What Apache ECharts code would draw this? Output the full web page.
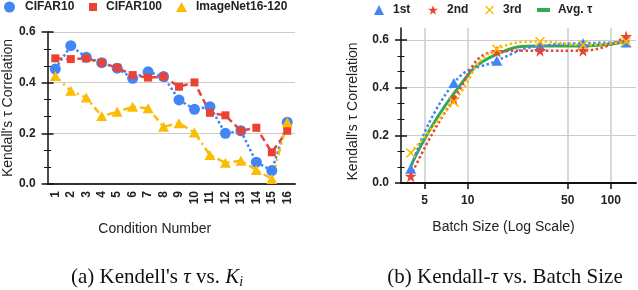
<!DOCTYPE html>
<html>
<head>
<meta charset="utf-8">
<script src="https://cdn.jsdelivr.net/npm/echarts@6/dist/echarts.min.js"></script>
<style>
html,body{margin:0;padding:0;background:#fff;}
#chart{width:638px;height:290px;}
</style>
</head>
<body>
<div id="chart"></div>
<script>
// ---- Data: left panel (Kendall's tau vs. condition number) ----
const conditions = ['1','2','3','4','5','6','7','8','9','10','11','12','13','14','15','16'];
const cifar10  = [0.454, 0.546, 0.500, 0.479, 0.457, 0.417, 0.443, 0.424, 0.332, 0.295, 0.305, 0.200, 0.210, 0.086, 0.053, 0.244];
const cifar100 = [0.496, 0.493, 0.496, 0.479, 0.459, 0.430, 0.420, 0.424, 0.384, 0.401, 0.281, 0.271, 0.210, 0.222, 0.125, 0.210];
const imagenet = [0.426, 0.368, 0.341, 0.268, 0.285, 0.305, 0.299, 0.226, 0.240, 0.203, 0.114, 0.084, 0.092, 0.055, 0.020, 0.244];

// ---- Data: right panel (Kendall's tau vs. batch size) ----
const batchSizes = [4, 8, 16, 32, 64, 128];
const first  = [0.060, 0.419, 0.513, 0.575, 0.586, 0.589];
const second = [0.028, 0.352, 0.551, 0.555, 0.555, 0.614];
const third  = [0.126, 0.340, 0.561, 0.593, 0.579, 0.593];
const avgTau = [0.070, 0.375, 0.540, 0.575, 0.575, 0.593];
const batchTicks = [5, 10, 50, 100];
const tauTicks = [0, 0.2, 0.4, 0.6];

const C_BLUE = '#4285F4', C_RED = '#EA4335', C_YEL = '#FBBC04', C_GRN = '#34A853';
const SANS = 'Liberation Sans, Arial, sans-serif';
const SERIF = 'Liberation Serif, Times New Roman, serif';
const STAR = 'path://M50,0 L61.8,35.4 L100,35.4 L69.1,57.3 L80.9,95.1 L50,72.6 L19.1,95.1 L30.9,57.3 L0,35.4 L38.2,35.4 Z';
const XMARK = 'path://M0,11 L11,0 L50,39 L89,0 L100,11 L61,50 L100,89 L89,100 L50,61 L11,100 L0,89 L39,50 Z';

const lg = Math.log10;
const xyPairs = (xs, ys) => xs.map((x, i) => [lg(x), ys[i]]);
const tickLogs = batchTicks.map(v => lg(v));

const labelStyle = {fontFamily: SANS, fontSize: 12, fontWeight: 'bold', color: '#222'};
const nameStyle = {fontFamily: SANS, fontSize: 14, color: '#222'};

function legend(name, icon, left, top, w, h, padLeft) {
  return {
    data: [{name: name, icon: icon}],
    left: left, top: top, padding: 0, itemWidth: w, itemHeight: h,
    selectedMode: false,
    textStyle: {fontFamily: SANS, fontSize: 12, fontWeight: 'bold', color: '#222', padding: [0, 0, 0, padLeft]}
  };
}

function yAxisPair(gridIndex, max, nameGap, namePad) {
  const base = {
    type: 'value', gridIndex: gridIndex, min: 0, max: max, interval: 0.2, position: 'left'
  };
  return [
    Object.assign({}, base, {
      name: "Kendall's τ Correlation", nameLocation: 'middle', nameGap: nameGap,
      nameTextStyle: Object.assign({}, nameStyle, {padding: namePad}),
      axisLine: {show: true, lineStyle: {color: '#111', width: 1.5}},
      axisTick: {show: true, length: 6, customValues: tauTicks, lineStyle: {color: '#111', width: 1.5}},
      minorTick: {show: true, splitNumber: 3, length: 3.5, lineStyle: {color: '#111', width: 1}},
      axisLabel: Object.assign({}, labelStyle, {margin: 12, customValues: tauTicks, formatter: v => v.toFixed(1)}),
      splitLine: {show: true, lineStyle: {color: '#cccccc', width: 1}}
    }),
    Object.assign({}, base, {
      axisLine: {show: false},
      axisTick: {show: true, inside: true, length: 6, customValues: tauTicks, lineStyle: {color: '#111', width: 1.5}},
      minorTick: {show: true, splitNumber: 3, length: 3.5, lineStyle: {color: '#111', width: 1}},
      axisLabel: {show: false},
      splitLine: {show: false}
    })
  ];
}

const yAxes = yAxisPair(0, 0.6, 30, [0, 0, 0, 0]).concat(yAxisPair(1, 0.65, 41, [0, 12, 0, 0]));

const xMin = lg(3.42), xMax = lg(150);
const xAxes = [
  {
    type: 'category', gridIndex: 0, data: conditions, boundaryGap: true,
    name: 'Condition Number', nameLocation: 'middle', nameGap: 38,
    nameTextStyle: Object.assign({}, nameStyle, {padding: [0, 33, 0, 0]}),
    axisLine: {show: true, lineStyle: {color: '#333', width: 2}},
    axisTick: {show: false},
    axisLabel: Object.assign({}, labelStyle, {rotate: 90, margin: 7, interval: 0}),
    splitLine: {show: false}
  },
  {
    type: 'value', gridIndex: 1, min: xMin, max: xMax,
    name: 'Batch Size (Log Scale)', nameLocation: 'middle', nameGap: 37,
    nameTextStyle: Object.assign({}, nameStyle, {padding: [0, 30, 0, 0]}),
    axisLine: {show: true, lineStyle: {color: '#111', width: 2}},
    axisTick: {show: true, length: 6, customValues: tickLogs, lineStyle: {color: '#111', width: 1.5}},
    axisLabel: Object.assign({}, labelStyle, {margin: 12, customValues: tickLogs,
      formatter: v => String(Math.round(Math.pow(10, v)))}),
    splitLine: {show: true, lineStyle: {color: '#cccccc', width: 1.5}}
  },
  {
    type: 'value', gridIndex: 1, min: xMin, max: xMax,
    axisLine: {show: false},
    axisTick: {show: true, inside: true, length: 6, customValues: tickLogs, lineStyle: {color: '#111', width: 1.5}},
    axisLabel: {show: false},
    splitLine: {show: false}
  }
];

const option = {
  animation: false,
  backgroundColor: '#fff',
  grid: [
    {left: 45, top: 32, width: 250, height: 152},
    {left: 401, top: 28, width: 235, height: 155}
  ],
  legend: [
    legend('CIFAR10', 'circle', 4, 1, 11, 11, 5),
    legend('CIFAR100', 'rect', 89, 1, 8, 8, 4),
    legend('ImageNet16-120', 'triangle', 176, 1, 11, 10, 4),
    legend('1st', 'triangle', 374, 4, 10, 10, 4),
    legend('2nd', STAR, 428, 4, 10, 10, 4),
    legend('3rd', XMARK, 485, 4, 9, 9, 4),
    legend('Avg. τ', 'rect', 537, 4, 13, 4, 3)
  ],
  xAxis: xAxes,
  yAxis: yAxes,
  series: [
    {name: 'CIFAR10', type: 'line', xAxisIndex: 0, yAxisIndex: 0, data: cifar10,
     symbol: 'circle', symbolSize: 11, color: C_BLUE,
     lineStyle: {type: 'dotted', width: 2.5, color: C_BLUE}, itemStyle: {color: C_BLUE}},
    {name: 'CIFAR100', type: 'line', xAxisIndex: 0, yAxisIndex: 0, data: cifar100,
     symbol: 'rect', symbolSize: 8, color: C_RED,
     lineStyle: {type: [7, 4], width: 2.5, color: C_RED}, itemStyle: {color: C_RED}},
    {name: 'ImageNet16-120', type: 'line', xAxisIndex: 0, yAxisIndex: 0, data: imagenet,
     symbol: 'triangle', symbolSize: [11, 10], color: C_YEL,
     lineStyle: {type: [7, 4, 2, 4], width: 2.5, color: C_YEL}, itemStyle: {color: C_YEL}},

    {name: 'Avg. τ', type: 'line', xAxisIndex: 1, yAxisIndex: 2, data: xyPairs(batchSizes, avgTau),
     symbol: 'none', smooth: true, color: C_GRN, z: 1,
     lineStyle: {type: 'solid', width: 3, color: C_GRN}, itemStyle: {color: C_GRN}},
    {name: '1st', type: 'line', xAxisIndex: 1, yAxisIndex: 2, data: xyPairs(batchSizes, first),
     symbol: 'triangle', symbolSize: [11, 10], smooth: true, color: C_BLUE, z: 3,
     lineStyle: {type: 'dotted', width: 2.5, color: C_BLUE}, itemStyle: {color: C_BLUE}},
    {name: '2nd', type: 'line', xAxisIndex: 1, yAxisIndex: 2, data: xyPairs(batchSizes, second),
     symbol: STAR, symbolSize: 12, smooth: true, color: C_RED, z: 3,
     lineStyle: {type: 'dotted', width: 2.5, color: C_RED}, itemStyle: {color: C_RED}},
    {name: '3rd', type: 'line', xAxisIndex: 1, yAxisIndex: 2, data: xyPairs(batchSizes, third),
     symbol: XMARK, symbolSize: 10, smooth: true, color: C_YEL, z: 3,
     lineStyle: {type: 'dotted', width: 2.5, color: C_YEL}, itemStyle: {color: C_YEL}}
  ],
  graphic: [
    {type: 'text', x: 157, y: 277, style: {
      text: "{n|(a) Kendell's }{i|τ}{n| vs. }{i|K}{s|i}",
      align: 'center', verticalAlign: 'middle', fill: '#111',
      rich: {
        n: {fontFamily: SERIF, fontSize: 21, lineHeight: 24, color: '#111'},
        i: {fontFamily: SERIF, fontSize: 21, fontStyle: 'italic', lineHeight: 24, color: '#111'},
        s: {fontFamily: SERIF, fontSize: 14, fontStyle: 'italic', lineHeight: 14, verticalAlign: 'bottom', color: '#111'}
      }}},
    {type: 'text', x: 505, y: 277, style: {
      text: "{n|(b) Kendall-}{i|τ}{n| vs. Batch Size}",
      align: 'center', verticalAlign: 'middle', fill: '#111',
      rich: {
        n: {fontFamily: SERIF, fontSize: 21, lineHeight: 24, color: '#111'},
        i: {fontFamily: SERIF, fontSize: 21, fontStyle: 'italic', lineHeight: 24, color: '#111'}
      }}}
  ]
};

const chart = echarts.init(document.getElementById('chart'), null, {renderer: 'canvas'});
chart.setOption(option);
</script>
</body>
</html>
